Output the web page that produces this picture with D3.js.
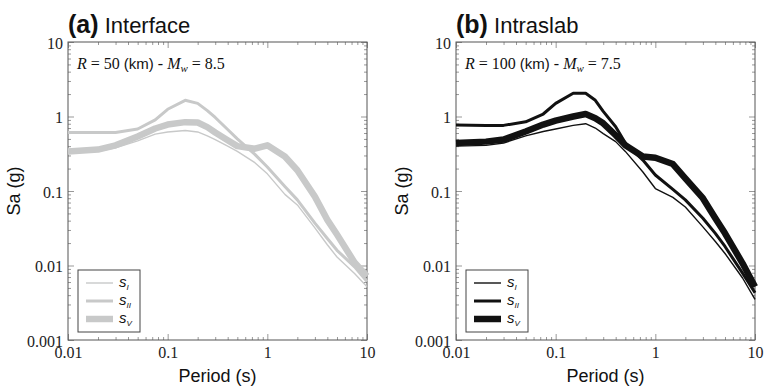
<!DOCTYPE html>
<html>
<head>
<meta charset="utf-8">
<script src="https://cdn.jsdelivr.net/npm/d3@7"></script>
<style>
  body { margin: 0; background: #fff; }
  svg { display: block; }
</style>
</head>
<body>
<svg id="chart" width="764" height="387"></svg>
<script>
// periods (s)
var periods = [0.01, 0.02, 0.03, 0.05, 0.075, 0.1, 0.15, 0.2, 0.25, 0.3, 0.4, 0.5, 0.75, 1, 1.5, 2, 3, 4, 5, 7.5, 10];

// (a) Interface
var interfaceSI  = [0.32, 0.34, 0.38, 0.47, 0.58, 0.62, 0.65, 0.62, 0.55, 0.49, 0.40, 0.34, 0.24, 0.17, 0.09, 0.065, 0.032, 0.019, 0.013, 0.0078, 0.0052];
var interfaceSII = [0.61, 0.61, 0.61, 0.68, 0.90, 1.25, 1.65, 1.50, 1.20, 0.97, 0.67, 0.50, 0.31, 0.21, 0.115, 0.076, 0.037, 0.023, 0.016, 0.0096, 0.0061];
var interfaceSV  = [0.34, 0.36, 0.41, 0.54, 0.69, 0.78, 0.84, 0.83, 0.72, 0.61, 0.48, 0.40, 0.37, 0.41, 0.29, 0.19, 0.084, 0.041, 0.026, 0.011, 0.0072];

// (b) Intraslab
var intraslabSI  = [0.40, 0.41, 0.44, 0.55, 0.63, 0.68, 0.76, 0.80, 0.70, 0.59, 0.46, 0.34, 0.18, 0.108, 0.082, 0.061, 0.033, 0.021, 0.0145, 0.0068, 0.0035];
var intraslabSII = [0.77, 0.76, 0.76, 0.85, 1.08, 1.50, 2.05, 2.05, 1.65, 1.17, 0.73, 0.44, 0.26, 0.164, 0.105, 0.076, 0.043, 0.027, 0.018, 0.0079, 0.0043];
var intraslabSV  = [0.44, 0.46, 0.49, 0.63, 0.78, 0.88, 1.00, 1.08, 0.95, 0.81, 0.56, 0.41, 0.29, 0.28, 0.23, 0.148, 0.080, 0.043, 0.027, 0.0107, 0.0052];

var xTicks = [0.01, 0.1, 1, 10];
var yTicks = [0.001, 0.01, 0.1, 1, 10];
var seriesNames = ["I", "II", "V"];
var widths = [1.4, 3, 6.5];

var SERIF = "'Liberation Serif', 'Times New Roman', serif";
var SANS = "'Liberation Sans', Arial, sans-serif";

var svg = d3.select("#chart");

function minors(lo, hi) {
    var out = [];
    for (var d = lo; d < hi * 0.999; d *= 10)
        for (var k = 2; k <= 9; k++) out.push(d * k);
    return out;
}

function panel(left, letter, name, annot, data, color) {
    var top = 42, w = 299, h = 298;
    var x = d3.scaleLog().domain([0.01, 10]).range([0, w]);
    var y = d3.scaleLog().domain([0.001, 10]).range([h, 0]);
    var g = svg.append("g").attr("transform", "translate(" + left + "," + top + ")");

    var tickCol = "#999";
    function addAxis(axis, tr, vals, size, pad) {
        var a = g.append("g").attr("transform", tr)
            .call(axis.tickValues(vals).tickSize(size).tickPadding(pad)
                .tickFormat(pad ? function (d) { return d; } : ""));
        a.select(".domain").remove();
        a.selectAll("line").attr("stroke", tickCol);
        a.selectAll("text").style("font-family", SERIF).style("font-size", "16px").attr("fill", "#222");
        return a;
    }
    // bottom / top
    addAxis(d3.axisBottom(x), "translate(0," + h + ")", xTicks, -6, 7);
    addAxis(d3.axisBottom(x), "translate(0," + h + ")", minors(0.01, 10), -3, 0);
    addAxis(d3.axisTop(x), "translate(0,0)", xTicks, -6, 0);
    addAxis(d3.axisTop(x), "translate(0,0)", minors(0.01, 10), -3, 0);
    // left / right
    var la = addAxis(d3.axisLeft(y), "translate(0,0)", yTicks, -6, 5);
    la.selectAll("text").attr("dy", "0.4em");
    addAxis(d3.axisLeft(y), "translate(0,0)", minors(0.001, 10), -3, 0);
    addAxis(d3.axisRight(y), "translate(" + w + ",0)", yTicks, -6, 0);
    addAxis(d3.axisRight(y), "translate(" + w + ",0)", minors(0.001, 10), -3, 0);

    // frame
    g.append("rect").attr("width", w).attr("height", h)
        .attr("fill", "none").attr("stroke", "#555").attr("stroke-width", 1);

    // curves
    var line = d3.line()
        .x(function (d, i) { return x(periods[i]); })
        .y(function (d) { return y(d); });
    data.forEach(function (s, i) {
        g.append("path").datum(s).attr("d", line)
            .attr("fill", "none").attr("stroke", color)
            .attr("stroke-width", widths[i]).attr("stroke-linejoin", "round");
    });

    // axis titles
    g.append("text").style("font-family", SANS).attr("x", w / 2).attr("y", h + 42)
        .attr("text-anchor", "middle")
        .attr("font-size", 18).attr("fill", "#111").text("Period (s)");
    g.append("text").style("font-family", SANS).attr("transform", "translate(" + (-48) + "," + (h / 2) + ") rotate(-90)")
        .attr("text-anchor", "middle")
        .attr("font-size", 18).attr("fill", "#111").text("Sa (g)");

    // panel title
    var t = g.append("text").style("font-family", SANS).attr("x", 0).attr("y", -9).attr("fill", "#111");
    t.append("tspan").attr("font-weight", "bold").attr("font-size", 25).text("(" + letter + ")");
    t.append("tspan").attr("font-size", 22).text(" " + name);

    // annotation
    var an = g.append("text").style("font-family", SERIF).attr("x", 9).attr("y", 27).attr("font-size", 16)
        .attr("fill", "#111");
    an.append("tspan").attr("font-style", "italic").text("R");
    an.append("tspan").text(" = " + annot[0] + " ");
    an.append("tspan").style("font-family", SANS).attr("font-size", 15).text("(km)");
    an.append("tspan").text(" - ");
    an.append("tspan").attr("font-style", "italic").text("M");
    an.append("tspan").attr("font-style", "italic").attr("font-size", 11).attr("dy", 3).text("w");
    an.append("tspan").attr("dy", -3).text(" = " + annot[1]);

    // legend
    var lg = g.append("g").attr("transform", "translate(10," + (h - 70) + ")");
    lg.append("rect").attr("width", 62).attr("height", 62)
        .attr("fill", "#fff").attr("stroke", "#444").attr("stroke-width", 1);
    seriesNames.forEach(function (n, i) {
        var yy = 13 + i * 18;
        lg.append("line").attr("x1", 8).attr("x2", 35).attr("y1", yy).attr("y2", yy)
            .attr("stroke", color).attr("stroke-width", widths[i]);
        var lt = lg.append("text").style("font-family", SANS).attr("x", 41).attr("y", yy + 4)
            .attr("font-style", "italic")
            .attr("font-size", 15).attr("fill", "#111");
        lt.append("tspan").text("s");
        lt.append("tspan").attr("font-size", 8).attr("dy", 3).text(n);
    });
}

panel(68, "a", "Interface", ["50", "8.5"], [interfaceSI, interfaceSII, interfaceSV], "#c8c9c9");
panel(456, "b", "Intraslab", ["100", "7.5"], [intraslabSI, intraslabSII, intraslabSV], "#111");
</script>
</body>
</html>
